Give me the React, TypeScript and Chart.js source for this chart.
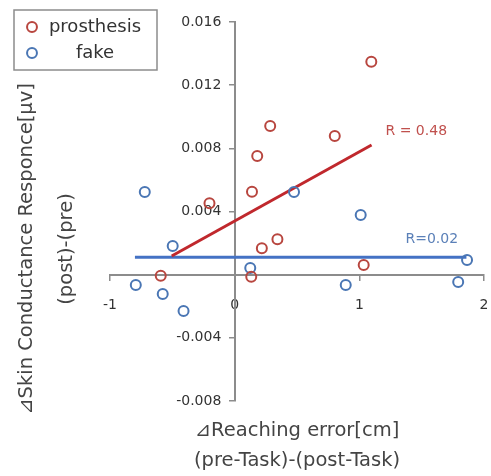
import React, { useEffect, useRef } from 'react';
import { Chart, registerables } from 'chart.js';

Chart.register(...registerables);

// ---- data ----
const seriesNames = ['prosthesis', 'fake'];

const prosthesisX = [1.096, 0.285, 0.803, 0.181, 0.139, -0.202, 0.343, 0.218, 0.133, -0.593, 1.035];
const prosthesisY = [0.01349, 0.00941, 0.00878, 0.00751, 0.00525, 0.00452, 0.00224, 0.00167, -0.00013, -0.00007, 0.00061];

const fakeX = [-0.721, 0.476, 1.011, -0.497, 0.125, -0.793, -0.577, -0.41, 0.891, 1.793, 1.864];
const fakeY = [0.00524, 0.00524, 0.00378, 0.00182, 0.00042, -0.00065, -0.00122, -0.0023, -0.00065, -0.00046, 0.00093];

// regression lines (end points)
const prosthesisFitX = [-0.505, 1.098];
const prosthesisFitY = [0.00118, 0.00821];
const fakeFitX = [-0.8, 1.859];
const fakeFitY = [0.0011, 0.0011];

// correlation labels
const rLabels = ['R = 0.48', 'R=0.02'];
const rLabelX = [1.21, 1.37];
const rLabelY = [0.00905, 0.00224];

// axes
const xMin = -1;
const xMax = 2;
const xStep = 1;
const yMin = -0.008;
const yMax = 0.016;
const yStep = 0.004;

const yTitle = ['\u22BFSkin Conductance Responce[\u03BCv]', '(post)-(pre)'];
const xTitle = ['\u22BFReaching error[cm]', '(pre-Task)-(post-Task)'];

// ---- styles ----
const RED_PT = '#B8463F';
const BLUE_PT = '#4A76B4';
const RED_LINE = '#C0282D';
const BLUE_LINE = '#4472C4';
const RED_TXT = '#C0504D';
const BLUE_TXT = '#5B80B8';
const AXIS = '#8C8C8C';
const TXT = '#333333';
const FONT = 'DejaVu Sans';

const toPts = (xs: number[], ys: number[]) => xs.map((x, i) => ({ x, y: ys[i] }));

export default function App() {
  const ref = useRef<HTMLCanvasElement | null>(null);

  useEffect(() => {
    document.body.style.margin = '0';
    const canvas = ref.current;
    if (!canvas) return;

    const extras = {
      id: 'extras',
      afterLayout(chart: any) {
        const lg = chart.legend;
        if (lg) {
          lg.left = 17;
          lg.top = 10;
          lg.right = 142;
          lg.width = lg.right - lg.left;
          lg.bottom = 100;
          lg.height = lg.bottom - lg.top;
        }
      },
      afterDatasetsDraw(chart: any) {
        const { ctx, scales } = chart;
        const colors = [RED_TXT, BLUE_TXT];
        ctx.save();
        ctx.font = `14px "${FONT}"`;
        ctx.textBaseline = 'middle';
        ctx.textAlign = 'left';
        rLabels.forEach((t, i) => {
          ctx.fillStyle = colors[i];
          ctx.fillText(t, scales.x.getPixelForValue(rLabelX[i]), scales.y.getPixelForValue(rLabelY[i]));
        });
        ctx.restore();
      },
      afterDraw(chart: any) {
        const lg = chart.legend;
        if (!lg) return;
        const { ctx } = chart;
        ctx.save();
        ctx.strokeStyle = AXIS;
        ctx.lineWidth = 1.5;
        ctx.strokeRect(lg.left - 3, lg.top, 143, 60);
        ctx.restore();
      },
    };

    const chart = new Chart(canvas, {
      type: 'scatter',
      data: {
        datasets: [
          {
            label: seriesNames[0],
            data: toPts(prosthesisX, prosthesisY),
            borderColor: RED_PT,
            backgroundColor: 'rgba(255,255,255,0)',
            pointRadius: 5,
            pointHoverRadius: 5,
            borderWidth: 2,
            pointBorderWidth: 2,
          },
          {
            label: seriesNames[1],
            data: toPts(fakeX, fakeY),
            borderColor: BLUE_PT,
            backgroundColor: 'rgba(255,255,255,0)',
            pointRadius: 5,
            pointHoverRadius: 5,
            borderWidth: 2,
            pointBorderWidth: 2,
          },
          {
            label: 'fit-prosthesis',
            data: toPts(prosthesisFitX, prosthesisFitY),
            showLine: true,
            borderColor: RED_LINE,
            backgroundColor: RED_LINE,
            borderWidth: 3,
            pointRadius: 0,
            pointHoverRadius: 0,
          },
          {
            label: 'fit-fake',
            data: toPts(fakeFitX, fakeFitY),
            showLine: true,
            borderColor: BLUE_LINE,
            backgroundColor: BLUE_LINE,
            borderWidth: 3,
            pointRadius: 0,
            pointHoverRadius: 0,
          },
        ],
      },
      options: {
        responsive: false,
        animation: false,
        devicePixelRatio: 1,
        layout: { padding: { left: 0, top: 22, right: 5, bottom: 0 } },
        scales: {
          x: {
            type: 'linear',
            position: { y: 0 },
            min: xMin,
            max: xMax,
            ticks: {
              stepSize: xStep,
              padding: 0,
              color: TXT,
              font: { family: FONT, size: 14 },
              callback: (v: any) => String(v),
            },
            grid: {
              drawOnChartArea: false,
              drawTicks: true,
              tickLength: 22,
              tickBorderDash: [5, 40],
              color: AXIS,
              lineWidth: 1.5,
            },
            border: { display: true, color: AXIS, width: 2 },
          },
          y: {
            type: 'linear',
            position: { x: 0 },
            min: yMin,
            max: yMax,
            ticks: {
              stepSize: yStep,
              padding: 12,
              color: TXT,
              font: { family: FONT, size: 14 },
              callback: (v: any) => (Math.abs(Number(v)) < 1e-9 ? '' : Number(v).toFixed(3) + '   '),
            },
            grid: { drawOnChartArea: false, drawTicks: true, tickLength: 5, color: AXIS, lineWidth: 1.5 },
            border: { display: true, color: AXIS, width: 2 },
          },
        },
        plugins: {
          tooltip: { enabled: false },
          legend: {
            position: 'chartArea',
            align: 'start',
            labels: {
              usePointStyle: true,
              boxWidth: 14,
              boxHeight: 7,
              padding: 8,
              color: TXT,
              textAlign: 'center',
              font: { family: FONT, size: 18 },
              filter: (item: any) => item.datasetIndex < 2,
            },
          },
          title: {
            display: true,
            position: 'left',
            fullSize: true,
            text: yTitle,
            color: '#444444',
            font: { family: FONT, size: 19.5, weight: 'normal', lineHeight: '40px' },
            padding: { top: 7, bottom: 23 },
          },
          subtitle: {
            display: true,
            position: 'bottom',
            fullSize: false,
            text: xTitle,
            color: '#444444',
            font: { family: FONT, size: 19.5, weight: 'normal', lineHeight: '30px' },
            padding: { top: 15, bottom: 0 },
          },
        },
      } as any,
      plugins: [extras],
    });

    return () => chart.destroy();
  }, []);

  return <canvas ref={ref} width={491} height={476} style={{ display: 'block' }} />;
}
